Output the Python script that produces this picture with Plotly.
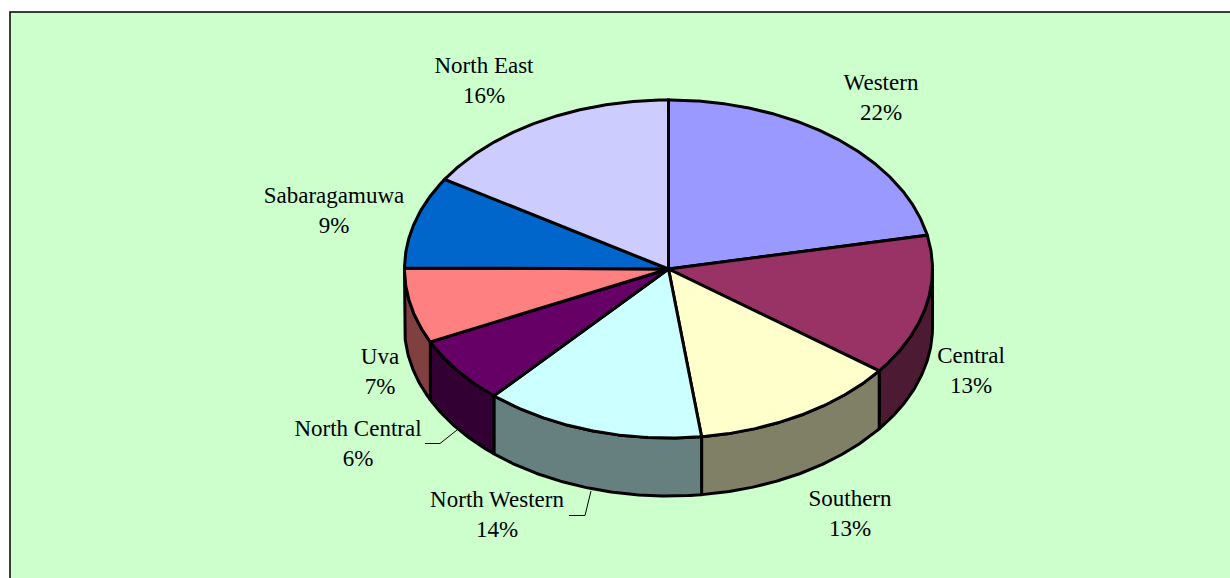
import numpy as np
import plotly.graph_objects as go

regions = ["Western", "Central", "Southern", "North Western", "North Central", "Uva", "Sabaragamuwa", "North East"]
shares = [21.8, 13.49, 12.71, 13.5, 6.4, 7.2, 8.8, 16.1]
top_colors = ["#9999FF", "#993366", "#FFFFCC", "#CCFFFF", "#660066", "#FF8080", "#0066CC", "#CCCCFF"]
side_colors = ["#4D4D80", "#4D1A33", "#808066", "#668080", "#330033", "#804040", "#003366", "#666680"]

label_x = [881, 971, 850, 497, 358, 380, 334, 484]
label_y = [84, 357, 500, 501, 430, 358, 197, 67]
LINE_GAP = 30

CX, CY, RX, RY, DEPTH = 668.5, 269, 264, 169, 58
EDGE = 3

leader_x = [[425, 440, 457], [569, 585, 591]]
leader_y = [[443.5, 443.5, 430], [515.5, 515.5, 491]]

total = sum(shares)
edges = np.concatenate([[0], np.cumsum(shares)]) / total * 360.0


def arc(a0, a1, dy=0.0):
    t = np.radians(np.linspace(a0, a1, max(int(abs(a1 - a0) * 2), 2)))
    return CX + RX * np.sin(t), CY - RY * np.cos(t) + dy


fig = go.Figure()

# Side walls: only the front half of the disc (90 to 270 degrees clockwise from top)
for i in range(len(regions)):
    a0, a1 = max(edges[i], 90), min(edges[i + 1], 270)
    if a1 <= a0:
        continue
    tx, ty = arc(a0, a1)
    bx, by = arc(a1, a0, DEPTH)
    fig.add_trace(go.Scatter(
        x=np.concatenate([tx, bx, tx[:1]]), y=np.concatenate([ty, by, ty[:1]]),
        mode="lines", fill="toself", fillcolor=side_colors[i],
        line=dict(color="black", width=EDGE), hoverinfo="skip", showlegend=False))

# Top face
for i, name in enumerate(regions):
    ax, ay = arc(edges[i], edges[i + 1])
    fig.add_trace(go.Scatter(
        x=np.concatenate([[CX], ax, [CX]]), y=np.concatenate([[CY], ay, [CY]]),
        mode="lines", fill="toself", fillcolor=top_colors[i],
        line=dict(color="black", width=EDGE), name=name, showlegend=False))

# Leader lines
for lx, ly in zip(leader_x, leader_y):
    fig.add_trace(go.Scatter(x=lx, y=ly, mode="lines", line=dict(color="black", width=1),
                             hoverinfo="skip", showlegend=False))

# Labels
text_x, text_y, texts = [], [], []
for name, v, x, y in zip(regions, shares, label_x, label_y):
    text_x += [x, x]
    text_y += [y, y + LINE_GAP]
    texts += [name, f"{round(v)}%"]
fig.add_trace(go.Scatter(x=text_x, y=text_y, text=texts, mode="text", textposition="middle center",
                         textfont=dict(family="Liberation Serif", size=23, color="black"),
                         hoverinfo="skip", showlegend=False))

fig.add_shape(type="rect", x0=10, y0=12, x1=1260, y1=600, xref="x", yref="y", layer="below",
              fillcolor="#CCFFCC", line=dict(color="black", width=1.5))

fig.update_layout(
    width=1230, height=578, autosize=False,
    margin=dict(l=0, r=0, t=0, b=0),
    paper_bgcolor="white", plot_bgcolor="white",
    xaxis=dict(range=[0, 1230], visible=False, fixedrange=True),
    yaxis=dict(range=[578, 0], visible=False, fixedrange=True),
)

fig.write_html("out.html", config={"displayModeBar": False},
               post_script="document.body.style.margin='0';document.body.style.overflow='hidden';")
